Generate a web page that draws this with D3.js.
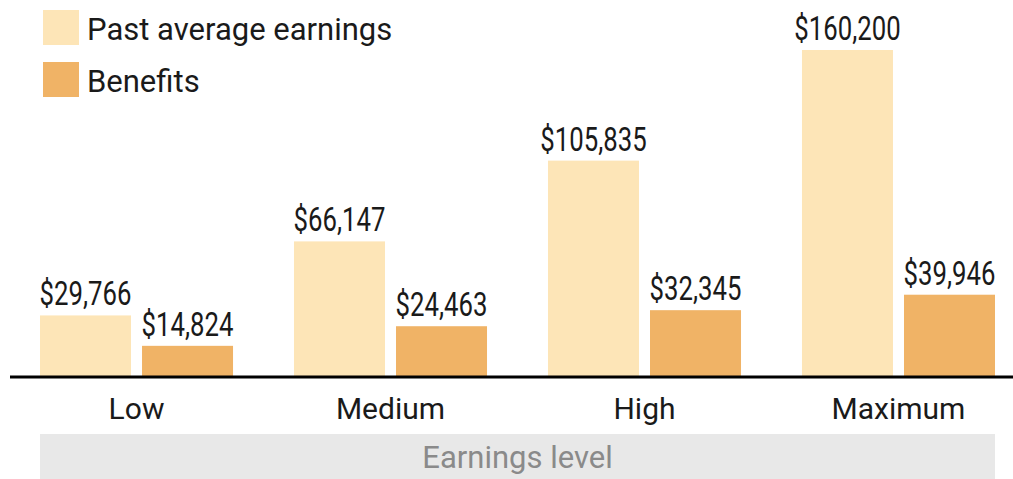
<!DOCTYPE html>
<html>
<head>
<meta charset="utf-8">
<script src="https://cdn.jsdelivr.net/npm/d3@7"></script>
<style>
  body { margin: 0; background: #fff; }
  svg text { font-family: "Roboto", "Liberation Sans", sans-serif; }
</style>
</head>
<body>
<div id="chart"></div>
<script>
var categories = ["Low", "Medium", "High", "Maximum"];
var seriesNames = ["Past average earnings", "Benefits"];
var pastEarnings = [29766, 66147, 105835, 160200];
var benefits = [14824, 24463, 32345, 39946];
var axisTitle = "Earnings level";

var width = 1013;
var height = 479;
var colors = ["#fde5b7", "#f0b366"];

var svg = d3.select("#chart").append("svg")
  .attr("width", width)
  .attr("height", height);

var x0 = d3.scaleBand().domain(categories).range([40, 995]).paddingInner(0.24).paddingOuter(0);
var x1 = d3.scaleBand().domain(seriesNames).range([0, x0.bandwidth()]).paddingInner(0.108).paddingOuter(0);
var y = d3.scaleLinear().domain([0, 160200]).range([376, 50]);

var rows = categories.map(function(c, i) {
  return { cat: c, values: [
    { key: seriesNames[0], value: pastEarnings[i] },
    { key: seriesNames[1], value: benefits[i] }
  ]};
});

var fmt = d3.format(",");

var groups = svg.selectAll("g.group")
  .data(rows)
  .enter().append("g")
  .attr("class", "group")
  .attr("transform", function(d) { return "translate(" + x0(d.cat) + ",0)"; });

groups.selectAll("rect")
  .data(function(d) { return d.values; })
  .enter().append("rect")
  .attr("x", function(d) { return x1(d.key); })
  .attr("y", function(d) { return y(d.value); })
  .attr("width", x1.bandwidth())
  .attr("height", function(d) { return y(0) - y(d.value); })
  .attr("fill", function(d, i) { return colors[i]; });

// value labels, squeezed horizontally to mimic the condensed face
groups.selectAll("text.val")
  .data(function(d) { return d.values; })
  .enter().append("text")
  .attr("class", "val")
  .attr("transform", function(d) {
    return "translate(" + (x1(d.key) + x1.bandwidth() / 2) + "," + (y(d.value) - 10) + ") scale(0.78,1)";
  })
  .attr("text-anchor", "middle")
  .attr("font-size", 33)
  .attr("fill", "#1a1a1a")
  .text(function(d) { return "$" + fmt(d.value); });

// baseline
svg.append("line")
  .attr("x1", 10).attr("x2", width)
  .attr("y1", y(0) + 1).attr("y2", y(0) + 1)
  .attr("stroke", "#000").attr("stroke-width", 3);

// category labels
var xAxis = svg.append("g")
  .attr("transform", "translate(0," + (y(0) + 1) + ")")
  .call(d3.axisBottom(x0).tickSize(0).tickPadding(21));
xAxis.select(".domain").remove();
xAxis.selectAll("text")
  .attr("font-size", 30)
  .attr("fill", "#1a1a1a")
  .style("font-family", "Roboto, sans-serif");

// axis title band
svg.append("rect")
  .attr("x", 40).attr("y", 434)
  .attr("width", 955).attr("height", 45)
  .attr("fill", "#e8e8e8");
svg.append("text")
  .attr("x", (40 + 995) / 2).attr("y", 468)
  .attr("text-anchor", "middle")
  .attr("font-size", 31)
  .attr("fill", "#8a8a8a")
  .text(axisTitle);

// legend
var legend = svg.selectAll("g.legend")
  .data(seriesNames)
  .enter().append("g")
  .attr("class", "legend")
  .attr("transform", function(d, i) { return "translate(43," + (10 + i * 52) + ")"; });
legend.append("rect")
  .attr("width", 36).attr("height", 35)
  .attr("fill", function(d, i) { return colors[i]; });
legend.append("text")
  .attr("x", 44).attr("y", 30)
  .attr("font-size", 31)
  .attr("fill", "#1a1a1a")
  .text(function(d) { return d; });
</script>
</body>
</html>
